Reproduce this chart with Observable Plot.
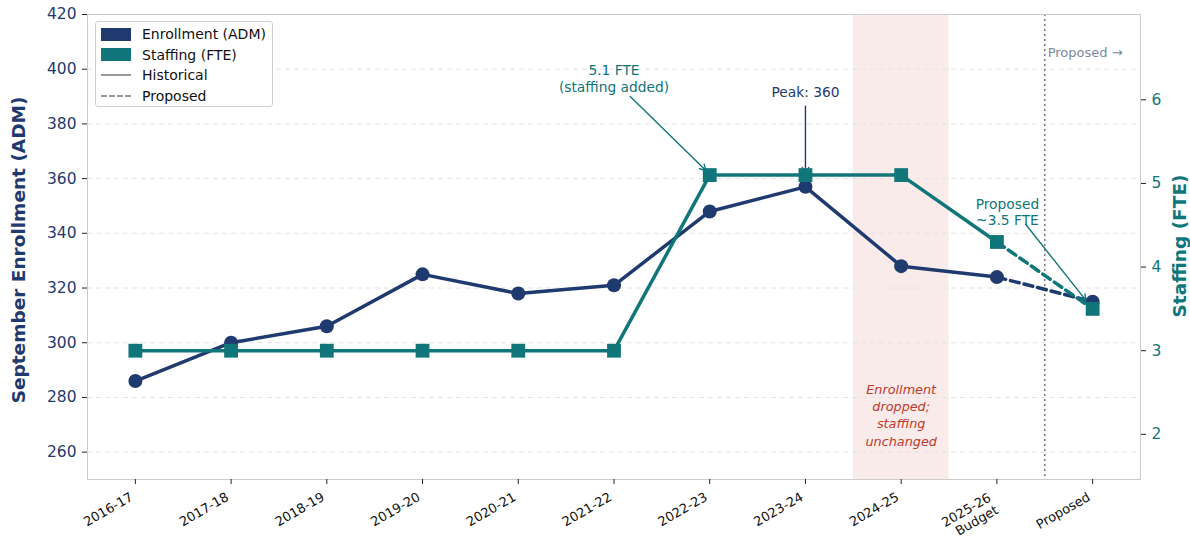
<!DOCTYPE html>
<html><head><meta charset="utf-8">
<script src="https://cdn.jsdelivr.net/npm/d3@7"></script>
<script src="https://cdn.jsdelivr.net/npm/@observablehq/plot@0.6"></script>
<style>
body{margin:0;background:#fff;font-family:"DejaVu Sans",sans-serif;}
#chart{position:relative;width:1190px;height:540px;overflow:hidden;}
#legend{position:absolute;left:95px;top:21px;width:176px;height:84px;border:1px solid #cfcfcf;border-radius:3px;background:rgba(255,255,255,0.85);font-size:14px;color:#111;}
#legend .row{position:absolute;left:5px;height:20px;display:flex;align-items:center;}
#legend .sw{width:30px;height:13px;margin-right:11px;}
#legend .ln{width:30px;height:0;margin-right:11px;border-top:2.5px solid #999;}
</style></head><body><div id="chart"></div>
<script>
const years = ["2016-17","2017-18","2018-19","2019-20","2020-21","2021-22","2022-23","2023-24","2024-25","2025-26\nBudget","Proposed"];
const enrollment = [286,300,306,325,318,321,348,357,328,324,315];
const staffing = [3,3,3,3,3,3,5.1,5.1,5.1,4.3,3.5];
const enrollTicks = [260,280,300,320,340,360,380,400,420];
const gridTicks = [260,280,300,320,340,360,380,400];
const fteTicks = [2,3,4,5,6];
const enrollDomain = [250,420];
const fteDomain = [1.46,7.02];
const navy = "#1f3a6e", teal = "#10767a", red = "#c0392b";

const toY = f => enrollDomain[0] + (f - fteDomain[0]) * (enrollDomain[1]-enrollDomain[0]) / (fteDomain[1]-fteDomain[0]);
const fromY = v => fteDomain[0] + (v - enrollDomain[0]) * (fteDomain[1]-fteDomain[0]) / (enrollDomain[1]-enrollDomain[0]);

const idx = years.map((_, i) => i);
const enr = years.map((_, i) => ({i, v: enrollment[i]}));
const stf = years.map((_, i) => ({i, v: toY(staffing[i])}));
const nHist = 10;
const xLabels = years.map((t, i) => ({i, t, multi: t.includes("\n")}));

const annotations = [
  {x: 5.0, y: 396.8, text: "5.1 FTE\n(staffing added)", color: teal},
  {x: 7, y: 391.6, text: "Peak: 360", color: navy},
  {x: 9.11, y: 347.9, text: "Proposed\n~3.5 FTE", color: teal}
];
const arrowsUnder = [
  {x1: 7, y1: 386.5, x2: 7, y2: 362, color: navy}
];
const arrowsOver = [
  {x1: 5.17, y1: 390.0, x2: 5.96, y2: 363.0, color: teal},
  {x1: 9.3, y1: 343.3, x2: 9.93, y2: 315.5, color: teal}
];

const chart = Plot.plot({
  width: 1190, height: 540,
  marginTop: 14, marginBottom: 61, marginLeft: 87, marginRight: 50,
  style: {fontFamily: "DejaVu Sans", fontSize: "13px", background: "white"},
  x: {type: "linear", domain: [-0.5, 10.5], axis: null},
  y: {domain: enrollDomain, axis: null},
  marks: [
    Plot.rect([{a: 7.5, b: 8.5}], {x1: "a", x2: "b", y1: enrollDomain[0], y2: enrollDomain[1], fill: red, fillOpacity: 0.1}),
    Plot.ruleY(gridTicks, {stroke: "#e3e3e3", strokeDasharray: "5,4", strokeWidth: 1}),
    Plot.ruleX([9.5], {stroke: "#7c7c8a", strokeDasharray: "2,3", strokeWidth: 1.6}),
    Plot.frame({stroke: "#cccccc"}),
    // enrollment
    Plot.line(enr.slice(0, nHist), {x: "i", y: "v", stroke: navy, strokeWidth: 3.5}),
    Plot.line(enr.slice(nHist - 1), {x: "i", y: "v", stroke: navy, strokeWidth: 3.5, strokeDasharray: "9,5"}),
    Plot.dot(enr, {x: "i", y: "v", r: 7, fill: navy, stroke: null}),
    Plot.arrow(arrowsUnder, {x1: "x1", y1: "y1", x2: "x2", y2: "y2", stroke: "color", strokeWidth: 1.4, headLength: 7}),
    // staffing
    Plot.line(stf.slice(0, nHist), {x: "i", y: "v", stroke: teal, strokeWidth: 3.5}),
    Plot.line(stf.slice(nHist - 1), {x: "i", y: "v", stroke: teal, strokeWidth: 3.5, strokeDasharray: "9,5"}),
    Plot.dot(stf, {x: "i", y: "v", r: 7.8, symbol: "square", fill: teal, stroke: null}),
    // annotations
    Plot.arrow(arrowsOver, {x1: "x1", y1: "y1", x2: "x2", y2: "y2", stroke: "color", strokeWidth: 1.4, headLength: 7}),
    Plot.text(annotations, {x: "x", y: "y", text: "text", fill: "color", fontSize: 13.8, lineHeight: 1.2}),
    Plot.text(["Proposed →"], {x: 9.53, y: 406.1, textAnchor: "start", fill: "#7b889a", fontSize: 13}),
    Plot.text(["Enrollment\ndropped;\nstaffing\nunchanged"], {x: 8, y: 273.9, fill: red, fontStyle: "italic", fontSize: 12.8, lineHeight: 1.35}),
    // axes
    Plot.axisY(enrollTicks, {anchor: "left", tickSize: 5, tickPadding: 6, stroke: "#222", fill: navy, fontSize: 15.5, label: null}),
    Plot.axisY(fteTicks.map(toY), {anchor: "right", tickSize: 5, tickPadding: 6, stroke: "#222", fill: teal, fontSize: 15.5, label: null, tickFormat: v => String(Math.round(fromY(v)))}),
    Plot.axisX(idx, {anchor: "bottom", tickSize: 5, stroke: "#222", label: null, tickFormat: () => ""}),
    Plot.text(xLabels.filter(d => !d.multi), {x: "i", text: "t", frameAnchor: "bottom", rotate: -30, textAnchor: "end", lineAnchor: "top", dx: -6, dy: 12, fill: "#111", fontSize: 13}),
    Plot.text(xLabels.filter(d => d.multi), {x: "i", text: "t", frameAnchor: "bottom", rotate: -30, textAnchor: "end", lineAnchor: "top", dx: -10, dy: 12, fill: "#111", fontSize: 13, lineHeight: 1.1}),
    Plot.text(["September Enrollment (ADM)"], {frameAnchor: "left", rotate: -90, textAnchor: "middle", dx: -68, dy: 3, fill: navy, fontWeight: "bold", fontSize: 18.5}),
    Plot.text(["Staffing (FTE)"], {frameAnchor: "right", rotate: -90, textAnchor: "middle", dx: 40, dy: -1, fill: teal, fontWeight: "bold", fontSize: 18.5})
  ]
});
const host = document.getElementById("chart");
host.appendChild(chart);

const legendItems = [
  {label: "Enrollment (ADM)", kind: "patch", color: navy},
  {label: "Staffing (FTE)", kind: "patch", color: teal},
  {label: "Historical", kind: "solid", color: "#999"},
  {label: "Proposed", kind: "dash", color: "#999"}
];
const lg = document.createElement("div");
lg.id = "legend";
legendItems.forEach((it, k) => {
  const row = document.createElement("div");
  row.className = "row";
  row.style.top = (2 + k * 20.5) + "px";
  const sw = document.createElement("div");
  if (it.kind === "patch") { sw.className = "sw"; sw.style.background = it.color; }
  else { sw.className = "ln"; sw.style.borderTopColor = it.color; if (it.kind === "dash") sw.style.borderTopStyle = "dashed"; }
  row.appendChild(sw);
  const t = document.createElement("span");
  t.textContent = it.label;
  row.appendChild(t);
  lg.appendChild(row);
});
host.appendChild(lg);
</script></body></html>
